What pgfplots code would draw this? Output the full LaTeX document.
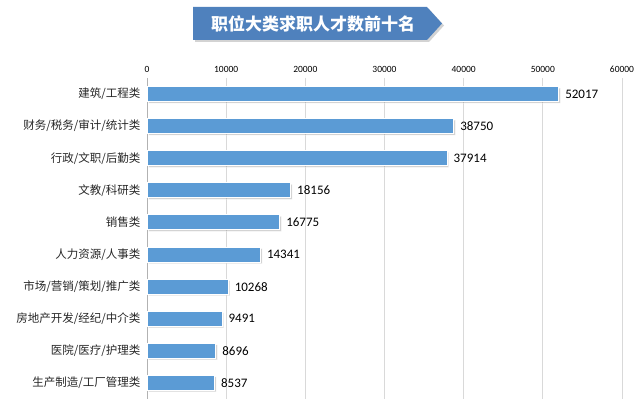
\documentclass[border=0pt]{standalone}
\usepackage{fontspec}
\setmainfont{Carlito}
\newfontfamily\cjk{Noto Sans CJK SC}
\usepackage{pgfplots}
\pgfplotsset{compat=1.18}
\usetikzlibrary{shadows}

\definecolor{barblue}{HTML}{5B9BD5}
\definecolor{titleblue}{HTML}{4F81BD}
\definecolor{gridgray}{HTML}{D9D9D9}

\begin{document}
\begin{tikzpicture}
\path[use as bounding box] (0,0) rectangle (642bp,404bp);

% title ribbon
\fill[titleblue, drop shadow={shadow xshift=2bp, shadow yshift=-2bp, opacity=0.35}]
  (193bp,397bp) -- (427bp,397bp) -- (442bp,380.5bp) -- (427bp,364bp) -- (193bp,364bp) -- cycle;
\node[text=white, font=\cjk\bfseries\fontsize{17bp}{19bp}\selectfont] at (313bp,380.5bp) {职位大类求职人才数前十名};

\begin{axis}[
    at={(147bp,5bp)}, anchor=south west,
    scale only axis,
    width=475bp, height=321bp,
    xbar,
    bar width=15bp,
    xmin=0, xmax=60000,
    ymin=-0.5, ymax=9.5,
    y dir=reverse,
    xtick={0,10000,...,60000},
    scaled x ticks=false,
    xticklabel pos=upper,
    xticklabel style={font=\fontsize{9.5bp}{11bp}\selectfont, yshift=2bp},
    /pgf/number format/assume math mode=true,
    /pgf/number format/1000 sep={},
    ytick=data,
    yticklabels={建筑/工程类, 财务/税务/审计/统计类, 行政/文职/后勤类, 文教/科研类, 销售类,
                 人力资源/人事类, 市场/营销/策划/推广类, 房地产开发/经纪/中介类, 医院/医疗/护理类, 生产制造/工厂管理类},
    yticklabel style={font=\cjk\fontsize{11.5bp}{13bp}\selectfont, text=black!85, xshift=-3bp},
    major tick length=0pt,
    xmajorgrids,
    grid style={gridgray, line width=0.8bp},
    axis x line*=top,
    axis y line*=left,
    x axis line style={draw=none},
    y axis line style={draw=black!30, line width=0.8bp},
    point meta=x,
    nodes near coords={\pgfmathprintnumber[fixed,precision=0,1000 sep={}]{\pgfplotspointmeta}},
    every node near coord/.append style={font=\fontsize{13bp}{15bp}\selectfont, anchor=west, xshift=5bp, inner sep=1bp, text=black},
]
\addplot[fill=barblue, draw=white, line width=1bp,
  drop shadow={shadow xshift=1.5bp, shadow yshift=-1.5bp, opacity=0.35}]
coordinates {
  (52017,0) (38750,1) (37914,2) (18156,3) (16775,4)
  (14341,5) (10268,6) (9491,7) (8696,8) (8537,9)
};
\end{axis}
\end{tikzpicture}
\end{document}
